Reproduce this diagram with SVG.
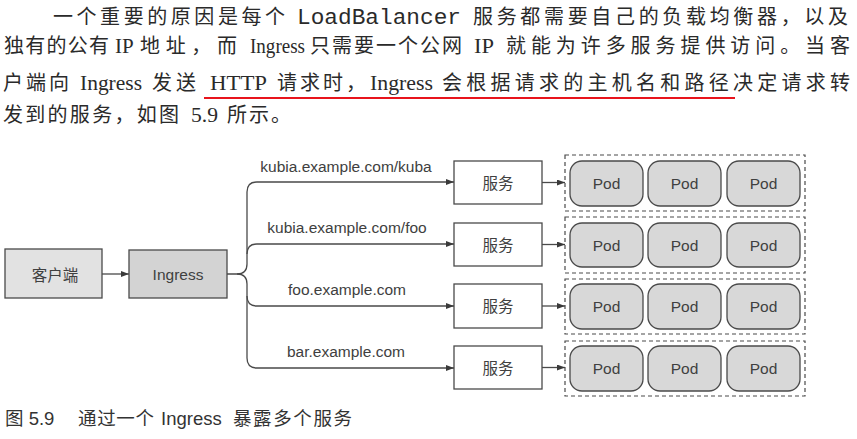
<svg xmlns="http://www.w3.org/2000/svg" width="857" height="439" viewBox="0 0 857 439">
<style>
.body{font-family:"Liberation Serif","Noto Sans CJK SC",serif;font-size:21px;fill:#2a2a2a}
.cjk{font-family:"Noto Sans CJK SC","Liberation Serif",sans-serif;font-size:20px;fill:#2a2a2a}
.mono{font-family:"Liberation Mono",monospace;font-size:22px;fill:#2a2a2a}
.lbl{font-family:"Liberation Sans","Noto Sans CJK SC",sans-serif;font-size:15.5px;fill:#404040;text-anchor:middle}
.cap{font-family:"Liberation Sans","Noto Sans CJK SC",sans-serif;font-size:18.5px;fill:#333}
.conn{fill:none;stroke:#4a4a4a;stroke-width:1.3}
.box{stroke:#4a4a4a;stroke-width:1.3}
.pod{fill:#d8d8d8;stroke:#4a4a4a;stroke-width:1.3}
.grp{fill:none;stroke:#4a4a4a;stroke-width:1.2;stroke-dasharray:4 3}
</style>
<defs>
<marker id="ah" viewBox="0 0 8 6" refX="8" refY="3" markerWidth="8" markerHeight="6" markerUnits="userSpaceOnUse" orient="auto">
<path d="M0,0 L8,3 L0,6 Z" fill="#3a3a3a"/>
</marker>
</defs>
<g id="paragraph">
<text class="cjk" x="53" y="24" textLength="232" lengthAdjust="spacing">一个重要的原因是每个</text>
<text class="mono" x="297" y="24" textLength="164" lengthAdjust="spacingAndGlyphs">LoadBalancer</text>
<text class="cjk" x="473" y="24" textLength="375" lengthAdjust="spacing">服务都需要自己的负载均衡器，以及</text>

<text class="cjk" x="4" y="53" textLength="105" lengthAdjust="spacing">独有的公有</text>
<text class="body" x="115" y="53">IP</text>
<text class="cjk" x="140" y="53" textLength="97" lengthAdjust="spacing">地址，而</text>
<text class="body" x="250" y="53" textLength="55" lengthAdjust="spacingAndGlyphs">Ingress</text>
<text class="cjk" x="310" y="53" textLength="152" lengthAdjust="spacing">只需要一个公网</text>
<text class="body" x="474" y="53" textLength="20" lengthAdjust="spacingAndGlyphs">IP</text>
<text class="cjk" x="506" y="53" textLength="344" lengthAdjust="spacing">就能为许多服务提供访问。当客</text>

<text class="cjk" x="3" y="90" textLength="66" lengthAdjust="spacing">户端向</text>
<text class="body" x="80" y="90" textLength="62" lengthAdjust="spacingAndGlyphs">Ingress</text>
<text class="cjk" x="152" y="90" textLength="44" lengthAdjust="spacing">发送</text>
<text class="body" x="210" y="90" textLength="57" lengthAdjust="spacingAndGlyphs">HTTP</text>
<text class="cjk" x="277" y="90" textLength="89" lengthAdjust="spacing">请求时，</text>
<text class="body" x="370" y="90" textLength="63" lengthAdjust="spacingAndGlyphs">Ingress</text>
<text class="cjk" x="442" y="90" textLength="408" lengthAdjust="spacing">会根据请求的主机名和路径决定请求转</text>
<line x1="204" y1="98" x2="735" y2="98" stroke="#e8141c" stroke-width="2"/>

<text class="cjk" x="3" y="122" textLength="176" lengthAdjust="spacing">发到的服务，如图</text>
<text class="body" x="191" y="122" textLength="27" lengthAdjust="spacingAndGlyphs">5.9</text>
<text class="cjk" x="227" y="122" textLength="64" lengthAdjust="spacing">所示。</text>
</g>

<g id="connectors">
<line class="conn" x1="102" y1="274" x2="129" y2="274" marker-end="url(#ah)"/>
<path class="conn" d="M227,274 H237 Q247,274 247,264 V192 Q247,182 257,182 H454" marker-end="url(#ah)"/>
<path class="conn" d="M247,254 Q247,244 257,244 H454" marker-end="url(#ah)"/>
<path class="conn" d="M237,274 Q247,274 247,284 V358 Q247,368 257,368 H454" marker-end="url(#ah)"/>
<path class="conn" d="M247,296 Q247,306 257,306 H454" marker-end="url(#ah)"/>
<line class="conn" x1="542" y1="182.5" x2="565" y2="182.5" marker-end="url(#ah)"/>
<line class="conn" x1="542" y1="244.5" x2="565" y2="244.5" marker-end="url(#ah)"/>
<line class="conn" x1="542" y1="306" x2="565" y2="306" marker-end="url(#ah)"/>
<line class="conn" x1="542" y1="367.5" x2="565" y2="367.5" marker-end="url(#ah)"/>
<text class="lbl" x="346" y="172">kubia.example.com/kuba</text>
<text class="lbl" x="347" y="233">kubia.example.com/foo</text>
<text class="lbl" x="347" y="295">foo.example.com</text>
<text class="lbl" x="346" y="357">bar.example.com</text>
</g>

<g id="client">
<rect class="box" x="5" y="249" width="97" height="49" fill="#e2e2e2"/>
<text class="lbl" x="55" y="281">客户端</text>
</g>
<g id="ingress">
<rect class="box" x="129" y="250" width="98" height="48" fill="#d3d3d3"/>
<text class="lbl" x="178" y="280">Ingress</text>
</g>

<g id="svc1"><rect class="box" x="454" y="161" width="88" height="43" fill="#fff"/><text class="lbl" x="498" y="189">服务</text></g>
<g id="svc2"><rect class="box" x="454" y="223" width="88" height="43" fill="#fff"/><text class="lbl" x="498" y="251">服务</text></g>
<g id="svc3"><rect class="box" x="454" y="284" width="88" height="44" fill="#fff"/><text class="lbl" x="498" y="312">服务</text></g>
<g id="svc4"><rect class="box" x="454" y="346" width="88" height="43" fill="#fff"/><text class="lbl" x="498" y="374">服务</text></g>

<g id="group1">
<rect class="grp" x="565" y="155" width="240" height="56"/>
<rect class="pod" x="570" y="161" width="73" height="45" rx="12"/><text class="lbl" x="606.5" y="189">Pod</text>
<rect class="pod" x="648" y="161" width="73" height="45" rx="12"/><text class="lbl" x="684.5" y="189">Pod</text>
<rect class="pod" x="727" y="161" width="73" height="45" rx="12"/><text class="lbl" x="763.5" y="189">Pod</text>
</g>
<g id="group2">
<rect class="grp" x="565" y="217" width="240" height="56"/>
<rect class="pod" x="570" y="223" width="73" height="44" rx="12"/><text class="lbl" x="606.5" y="251">Pod</text>
<rect class="pod" x="648" y="223" width="73" height="44" rx="12"/><text class="lbl" x="684.5" y="251">Pod</text>
<rect class="pod" x="727" y="223" width="73" height="44" rx="12"/><text class="lbl" x="763.5" y="251">Pod</text>
</g>
<g id="group3">
<rect class="grp" x="565" y="279" width="240" height="55"/>
<rect class="pod" x="570" y="284" width="73" height="45" rx="12"/><text class="lbl" x="606.5" y="312">Pod</text>
<rect class="pod" x="648" y="284" width="73" height="45" rx="12"/><text class="lbl" x="684.5" y="312">Pod</text>
<rect class="pod" x="727" y="284" width="73" height="45" rx="12"/><text class="lbl" x="763.5" y="312">Pod</text>
</g>
<g id="group4">
<rect class="grp" x="565" y="341" width="240" height="55"/>
<rect class="pod" x="570" y="346" width="73" height="45" rx="12"/><text class="lbl" x="606.5" y="374">Pod</text>
<rect class="pod" x="648" y="346" width="73" height="45" rx="12"/><text class="lbl" x="684.5" y="374">Pod</text>
<rect class="pod" x="727" y="346" width="73" height="45" rx="12"/><text class="lbl" x="763.5" y="374">Pod</text>
</g>

<g id="caption">
<text class="cap" x="5" y="425">图 5.9</text>
<text class="cap" x="78" y="425" textLength="76" lengthAdjust="spacing">通过一个</text>
<text class="cap" x="161" y="425">Ingress</text>
<text class="cap" x="233" y="425" textLength="119" lengthAdjust="spacing">暴露多个服务</text>
</g>
</svg>
